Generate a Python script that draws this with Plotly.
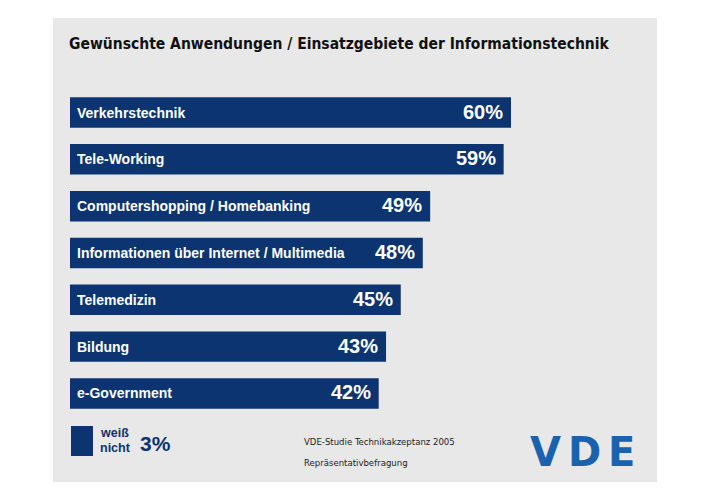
import plotly.graph_objects as go

# ---- data ----
categories = [
    "Verkehrstechnik",
    "Tele-Working",
    "Computershopping / Homebanking",
    "Informationen über Internet / Multimedia",
    "Telemedizin",
    "Bildung",
    "e-Government",
]
values = [60, 59, 49, 48, 45, 43, 42]
dont_know_lines = ["weiß", "nicht"]
dont_know_value = 3
title_text = "Gewünschte Anwendungen / Einsatzgebiete der Informationstechnik"
source_lines = ["VDE-Studie Technikakzeptanz 2005", "Repräsentativbefragung"]
logo_letters = ["V", "D", "E"]

# ---- styling ----
OFF = 8  # page body margin
W, H = 710 - OFF, 502 - OFF
NAVY = "#0b3471"
PANEL = "#e8e8e8"
LOGO = "#1a62ad"
BOLD = "Liberation Sans, Arial, sans-serif"
COND = "DejaVu Sans Condensed, Liberation Sans Narrow, Liberation Sans, sans-serif"

def px(x):
    return (x - OFF) / W

def py(y):
    return 1 - (y - OFF) / H

# axis mapping (reference pixels): value 0 at x=70, 7.35 px per percent
x0_px, x_scale = 70.0 - OFF, 7.35
y0_px, y_pitch = 112.5 - OFF, 46.83
xr = [-x0_px / x_scale, (W - x0_px) / x_scale]
yr = [(H - y0_px) / y_pitch, -y0_px / y_pitch]

fig = go.Figure()
fig.add_trace(go.Bar(
    x=values, y=categories, orientation="h",
    marker=dict(color=NAVY, line=dict(width=0)),
    width=0.65, hoverinfo="skip", showlegend=False,
))

annotations = []
for c, v in zip(categories, values):
    annotations.append(dict(
        x=0, y=c, xref="x", yref="y", text=c, showarrow=False,
        xanchor="left", yanchor="middle", xshift=5,
        font=dict(family=BOLD, size=14, color="white", weight="bold"),
    ))
    annotations.append(dict(
        x=v, y=c, xref="x", yref="y", text=f"{v}%", showarrow=False,
        xanchor="right", yanchor="middle", xshift=-6, yshift=1,
        font=dict(family=BOLD, size=20, color="white", weight="bold"),
    ))

# title
annotations.append(dict(
    x=px(67), y=py(44), xref="paper", yref="paper", text=title_text,
    showarrow=False, xanchor="left", yanchor="middle",
    font=dict(family=COND, size=15.5, color="#111111", weight="bold"),
))

# "don't know" legend
for i, line in enumerate(dont_know_lines):
    annotations.append(dict(
        x=px(98), y=py(433 + 15 * i), xref="paper", yref="paper", text=line,
        showarrow=False, xanchor="left", yanchor="middle",
        font=dict(family=BOLD, size=12.5, color=NAVY, weight="bold"),
    ))
annotations.append(dict(
    x=px(138), y=py(443), xref="paper", yref="paper", text=f"{dont_know_value}%",
    showarrow=False, xanchor="left", yanchor="middle",
    font=dict(family=BOLD, size=21, color=NAVY, weight="bold"),
))

# source
for i, line in enumerate(source_lines):
    annotations.append(dict(
        x=px(302), y=py(441 + 21 * i), xref="paper", yref="paper", text=line,
        showarrow=False, xanchor="left", yanchor="middle",
        font=dict(family=COND, size=9.5, color="#222222"),
    ))

# logo
for letter, cx in zip(logo_letters, [545, 584, 621.5]):
    annotations.append(dict(
        x=px(cx), y=py(452), xref="paper", yref="paper", text=letter,
        showarrow=False, xanchor="center", yanchor="middle",
        font=dict(family="DejaVu Sans, sans-serif", size=40, color=LOGO, weight="bold"),
    ))

shapes = [
    dict(type="rect", xref="paper", yref="paper", x0=px(53), x1=px(657),
         y0=py(482), y1=py(18), fillcolor=PANEL, line=dict(width=0), layer="below"),
    dict(type="rect", xref="paper", yref="paper", x0=px(71), x1=px(93),
         y0=py(456), y1=py(426), fillcolor=NAVY, line=dict(width=0), layer="above"),
]

fig.update_layout(
    width=W, height=H, autosize=False,
    margin=dict(l=0, r=0, t=0, b=0, pad=0),
    paper_bgcolor="white", plot_bgcolor="rgba(0,0,0,0)",
    xaxis=dict(range=xr, visible=False, fixedrange=True),
    yaxis=dict(range=yr, visible=False, fixedrange=True),
    annotations=annotations, shapes=shapes, showlegend=False,
)

fig.write_html("out.html")
